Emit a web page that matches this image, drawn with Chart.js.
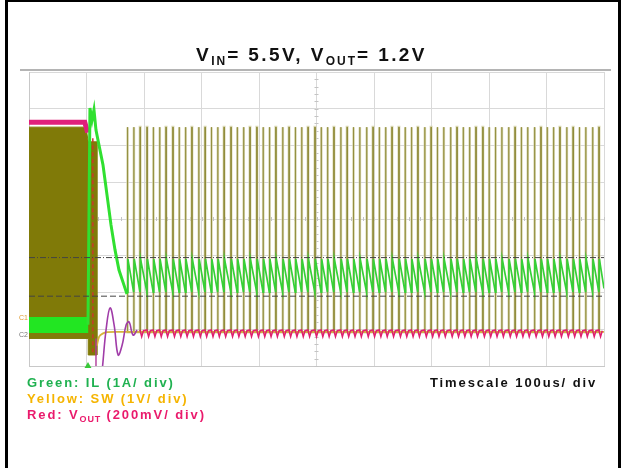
<!DOCTYPE html>
<html lang="en">
<head>
<meta charset="UTF-8">
<title>VIN 5.5V VOUT 1.2V</title>
<script src="https://cdn.jsdelivr.net/npm/chart.js"></script>
<style>
  body { margin: 0; background: #fff; font-family: "Liberation Sans", Arial, sans-serif; }
  #page { position: relative; width: 623px; height: 468px; overflow: hidden; }
  #frame { position: absolute; left: 5px; top: -1px; width: 610px; height: 480px; border: 3px solid #000; }
  #scopeTop { position: absolute; left: 20px; top: 69px; width: 591px; height: 0; border-top: 2px solid #b4b4b4; }
  #title { position: absolute; left: 0; width: 623px; top: 44px; text-align: center; font-weight: bold; font-size: 19px; letter-spacing: 2.4px; color: #111; }
  #title sub { font-size: 12px; vertical-align: -4px; letter-spacing: 2px; }
  .lbl { position: absolute; font-weight: bold; font-size: 13px; letter-spacing: 1.9px; line-height: 15px; white-space: nowrap; }
  .lbl sub { font-size: 9px; vertical-align: -3px; letter-spacing: 0.8px; }
  .tiny { position: absolute; font-size: 7px; line-height: 8px; }
  canvas { position: absolute; left: 0; top: 0; }
</style>
</head>
<body>
<div id="page">
  <canvas id="scope" width="623" height="468"></canvas>
  <div id="frame"></div>
  <div id="scopeTop"></div>
  <div id="title">V<sub>IN</sub>= 5.5V, V<sub>OUT</sub>= 1.2V</div>
  <div class="tiny" style="left:19px; top:314px; color:#e09a30;">C1</div>
  <div class="tiny" style="left:19px; top:331px; color:#777;">C2</div>
  <div class="lbl" style="left:27px; top:375px; color:#1fb150;">Green: IL (1A/ div)</div>
  <div class="lbl" style="left:27px; top:391px; color:#f5b400;">Yellow: SW (1V/ div)</div>
  <div class="lbl" style="left:27px; top:407px; color:#ea1a6c;">Red: V<sub>OUT</sub> (200mV/ div)</div>
  <div class="lbl" style="left:430px; top:375px; color:#111;">Timescale 100us/ div</div>
</div>
<script>
// time axis in us (100us/div), vertical axis in screen divisions (0 = bottom)
var pulseTimes = [171, 182, 193, 205, 216, 227, 238, 250, 261, 272, 283, 295, 306, 317, 328,
  339, 351, 362, 373, 384, 396, 407, 418, 429, 441, 452, 463, 474, 485, 497, 508, 519, 530,
  542, 553, 564, 575, 587, 598, 609, 620, 631, 643, 654, 665, 676, 688, 699, 710, 721, 733,
  744, 755, 766, 777, 789, 800, 811, 822, 834, 845, 856, 867, 879, 890, 901, 912, 923, 935,
  946, 957, 968, 980, 991];
var swLevels = [0.92, 6.5];          // SW low / high after the transition
var ilSaw = [2.01, 2.91];            // IL valley / peak in steady state
var ilBefore = [0.90, 1.33];         // IL band before the transition
var ilTransT = [102.6, 106, 109.6, 113, 116.5, 121.7, 128.7, 135.7, 142.6, 149.6, 156.5, 165.2, 170.4];
var ilTransV = [1.12, 7.02, 6.69, 6.97, 6.42, 6.01, 5.47, 4.65, 3.84, 3.16, 2.61, 2.20, 1.96];
var voutBefore = [6.63, 6.63, 6.35];
var voutBeforeT = [0, 97, 102];
var voutRingT = [128, 134, 141, 148, 155, 162, 169, 174, 181, 188];
var voutRingV = [0, 0.98, 1.58, 1.12, 0.30, 0.57, 1.12, 1.20, 0.84, 0.98];
var voutRipple = [0.98, 0.80];
var swBaseT = [118, 122, 128, 136, 150, 1000];
var swBaseV = [0.55, 0.80, 0.88, 0.92, 0.93, 0.93];
var cursorLevels = [2.95, 1.90];

function xy(ts, vs) {
  return ts.map(function (t, i) { return { x: t, y: vs[i] }; });
}

var pulsePts = [];
pulseTimes.forEach(function (t) {
  pulsePts.push({ x: t, y: swLevels[0] }, { x: t, y: swLevels[1] },
                { x: t + 0.6, y: swLevels[1] }, { x: t + 0.6, y: swLevels[0] });
});

var sawPts = [];
pulseTimes.forEach(function (t) {
  sawPts.push({ x: t, y: ilSaw[0] }, { x: t + 1, y: ilSaw[1] });
});
sawPts.push({ x: 1000, y: ilSaw[0] + 0.1 });

var ripplePts = [];
pulseTimes.forEach(function (t) {
  if (t < 185) return;
  ripplePts.push({ x: t, y: voutRipple[0] }, { x: t + 3, y: voutRipple[1] }, { x: t + 6, y: voutRipple[0] - 0.02 });
});

var oliveBlock = [
  { x: 0, y: 6.5 }, { x: 99, y: 6.5 }, { x: 103, y: 6.1 }, { x: 118, y: 6.1 },
  { x: 118, y: 0.3 }, { x: 103, y: 0.3 }, { x: 103, y: 0.75 }, { x: 0, y: 0.75 }
];
var ilBand = [
  { x: 0, y: ilBefore[1] }, { x: 103, y: ilBefore[1] }, { x: 103, y: ilBefore[0] }, { x: 0, y: ilBefore[0] }
];

function hline(v) { return [{ x: 0, y: v }, { x: 1000, y: v }]; }

var centerTicks = {
  id: 'centerTicks',
  beforeDatasetsDraw: function (chart) {
    var ctx = chart.ctx, xs = chart.scales.x, ys = chart.scales.y;
    var cx = xs.getPixelForValue(500), cy = ys.getPixelForValue(4);
    ctx.save();
    ctx.strokeStyle = '#c4c4c4';
    ctx.lineWidth = 1;
    for (var t = 0; t <= 1000; t += 20) {
      var px = Math.round(xs.getPixelForValue(t)) + 0.5;
      ctx.beginPath(); ctx.moveTo(px, cy - 2); ctx.lineTo(px, cy + 2); ctx.stroke();
    }
    for (var v = 0; v <= 8; v += 0.2) {
      var py = Math.round(ys.getPixelForValue(v)) + 0.5;
      ctx.beginPath(); ctx.moveTo(cx - 2, py); ctx.lineTo(cx + 2, py); ctx.stroke();
    }
    ctx.restore();
  }
};

new Chart(document.getElementById('scope'), {
  type: 'line',
  data: {
    datasets: [
      { data: [{ x: 102.6, y: 0 }], pointStyle: 'triangle', pointRadius: 4, pointBackgroundColor: '#38c838',
        pointBorderWidth: 0, showLine: false, clip: false, order: 0 },
      { data: [{ x: 1008, y: 3.54 }], pointStyle: 'triangle', pointRotation: -90, pointRadius: 4,
        pointBackgroundColor: '#38c838', pointBorderWidth: 0, showLine: false, clip: false, order: 0 },
      { data: ripplePts, borderColor: '#e0206e', borderWidth: 1.5, order: 1 },
      { data: xy(voutRingT, voutRingV), borderColor: '#a03ca8', borderWidth: 1.6, tension: 0.4, order: 1 },
      { data: [{ x: 116.5, y: 0.75 }, { x: 116.5, y: 0 }], borderColor: '#b03a9a', borderWidth: 1.4, order: 1 },
      { data: xy(swBaseT, swBaseV), borderColor: '#d6b43a', borderWidth: 1.8, tension: 0.3, order: 2 },
      { data: hline(cursorLevels[0]), borderColor: '#444', borderWidth: 1, borderDash: [6, 2, 1, 2], order: 3 },
      { data: hline(cursorLevels[1]), borderColor: '#444', borderWidth: 1, borderDash: [6, 3], order: 3 },
      { data: sawPts, borderColor: '#36d036', borderWidth: 1.7, order: 4 },
      { data: xy(ilTransT, ilTransV), borderColor: '#30e030', borderWidth: 3, order: 4 },
      { data: ilBand, backgroundColor: '#22e622', borderWidth: 0, fill: 'shape', order: 5 },
      { data: xy(voutBeforeT, voutBefore), borderColor: '#e0207a', borderWidth: 5, order: 6 },
      { data: [{ x: 111, y: 6.2 }, { x: 111, y: 0.3 }], borderColor: '#c83a2a', borderWidth: 1.5,
        borderDash: [4, 3], order: 6 },
      { data: pulsePts, borderColor: 'rgba(140,135,50,0.85)', borderWidth: 0.8, order: 7 },
      { data: pulsePts, borderColor: 'rgba(214,212,172,0.9)', borderWidth: 2.6, order: 8 },
      { data: oliveBlock, backgroundColor: '#807a08', borderColor: '#807a08', borderWidth: 1, fill: 'shape', order: 9 }
    ]
  },
  options: {
    responsive: false,
    animation: false,
    events: [],
    layout: { padding: { left: 29, top: 72, right: 19, bottom: 102 } },
    elements: { point: { radius: 0 }, line: { tension: 0 } },
    plugins: { legend: { display: false }, tooltip: { enabled: false } },
    scales: {
      x: { type: 'linear', min: 0, max: 1000,
           ticks: { stepSize: 100, display: false },
           grid: { color: '#d9d9d9', drawTicks: false },
           border: { color: '#c8c8c8' } },
      y: { type: 'linear', min: 0, max: 8,
           ticks: { stepSize: 1, display: false },
           grid: { color: '#d9d9d9', drawTicks: false },
           border: { color: '#c8c8c8' } }
    }
  },
  plugins: [centerTicks]
});
</script>
</body>
</html>
